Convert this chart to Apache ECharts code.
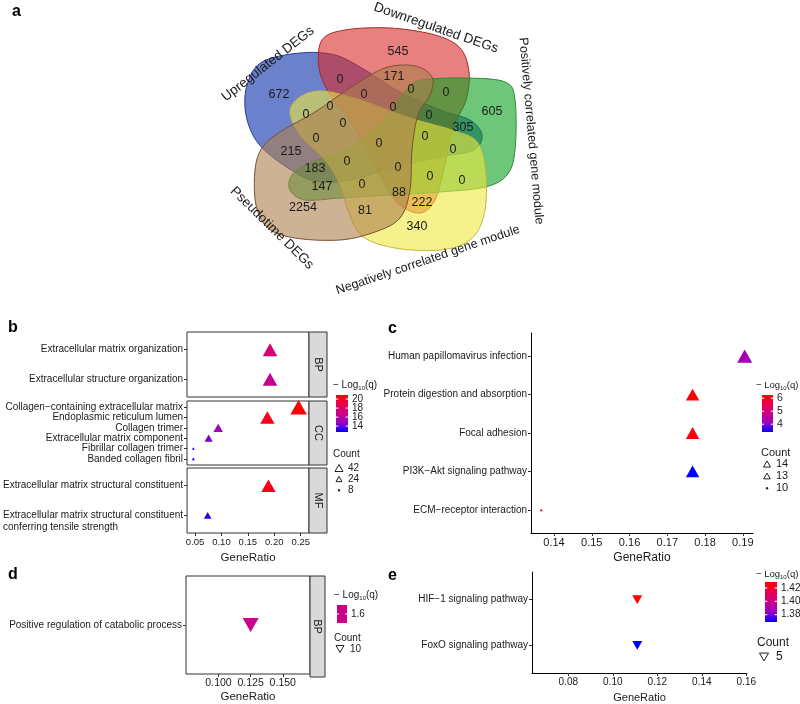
<!DOCTYPE html>
<html><head><meta charset="utf-8">
<script src="https://cdn.jsdelivr.net/npm/echarts@6/dist/echarts.min.js"></script>
<style>html,body{margin:0;padding:0;background:#fff}#c{width:800px;height:704px}</style>
</head><body><div id="c"></div>
<script>
// ================= DATA =================
// Venn (panel a)
const vennSets = ['Upregulated DEGs','Downregulated DEGs','Positively correlated gene module','Negatively correlated gene module','Pseudotime DEGs'];
const vennCounts = [672,545,171,0,0,0,0,0,0,605,0,0,0,305,0,0,0,215,0,0,183,0,0,0,147,0,88,222,2254,81,340];

// Panel b (GO, faceted)
const goBP_terms = ['Extracellular matrix organization','Extracellular structure organization'];
const goBP_ratio = [0.192, 0.192];
const goBP_logq  = [17.6, 16.5];
const goBP_count = [33, 33];

const goCC_terms = ['Collagen\u2212containing extracellular matrix','Endoplasmic reticulum lumen','Collagen trimer','Extracellular matrix component','Fibrillar collagen trimer','Banded collagen fibril'];
const goCC_ratio = [0.246, 0.187, 0.094, 0.076, 0.047, 0.047];
const goCC_logq  = [20.9, 20.3, 15.2, 14.3, 12.9, 12.7];
const goCC_count = [42, 32, 16, 13, 8, 8];

const goMF_terms = ['Extracellular matrix structural constituent','Extracellular matrix structural constituent conferring tensile strength'];
const goMF_ratio = [0.189, 0.074];
const goMF_logq  = [20.3, 13.2];
const goMF_count = [32, 12];

const bTicks = [0.05, 0.10, 0.15, 0.20, 0.25];
const bColorBreaks = [14, 16, 18, 20];
const bCountBreaks = [42, 24, 8];

// Panel c (KEGG)
const keggC_terms = ['Human papillomavirus infection','Protein digestion and absorption','Focal adhesion','PI3K\u2212Akt signaling pathway','ECM\u2212receptor interaction'];
const keggC_ratio = [0.1905, 0.1767, 0.1767, 0.1767, 0.1366];
const keggC_logq  = [4.3, 6.25, 6.15, 3.4, 6.0];
const keggC_count = [14, 13, 13, 13, 10];
const cTicks = [0.14, 0.15, 0.16, 0.17, 0.18, 0.19];
const cColorBreaks = [4, 5, 6];
const cCountBreaks = [14, 13, 10];

// Panel d (GO BP)
const goD_terms = ['Positive regulation of catabolic process'];
const goD_ratio = [0.125];
const goD_logq  = [1.6];
const goD_count = [10];
const dTicks = [0.100, 0.125, 0.150];
const dColorBreaks = [1.6];
const dCountBreaks = [10];

// Panel e (KEGG)
const keggE_terms = ['HIF\u22121 signaling pathway','FoxO signaling pathway'];
const keggE_ratio = [0.111, 0.111];
const keggE_logq  = [1.429, 1.369];
const keggE_count = [5, 5];
const eTicks = [0.08, 0.10, 0.12, 0.14, 0.16];
const eColorBreaks = [1.38, 1.40, 1.42];
const eCountBreaks = [5];

// ================= STYLE / LAYOUT =================
const FONT = "'Liberation Sans', Arial, sans-serif";
const TXT = '#1a1a1a';
const colorStops = ['#0000FF','#9A00C2','#CA0088','#E8004F','#FF0000'];

const vennShapes = [
  {fill:'rgba(10,45,170,0.6)', stroke:'#263c96', pts:[[262,62],[300,53],[335,55],[365,70],[400,92],[440,110],[470,120],[482,135],[474,150],[445,156],[400,166],[350,180],[315,181],[285,166],[258,143],[246,115],[247,85]]},
  {fill:'rgba(217,43,43,0.6)', stroke:'#a52828', pts:[[322,40],[345,30],[390,28],[435,35],[460,48],[469,72],[466,100],[453,128],[445,165],[435,200],[420,213],[400,205],[385,185],[368,152],[348,118],[330,95],[319,68]]},
  {fill:'rgba(13,160,30,0.6)', stroke:'#2a8a3a', pts:[[408,88],[422,80],[465,78],[505,82],[515,100],[515,150],[507,175],[485,187],[440,192],[390,195],[340,198],[305,200],[290,190],[292,175],[310,163],[345,150],[380,125],[398,100]]},
  {fill:'rgba(238,233,63,0.6)', stroke:'#c2b840', pts:[[290,112],[300,97],[322,91],[360,100],[410,118],[455,131],[478,143],[486,175],[484,215],[470,240],[440,250],[395,248],[362,236],[348,210],[340,185],[325,160],[300,135]]},
  {fill:'rgba(172,127,77,0.6)', stroke:'#7a5030', pts:[[255,170],[262,148],[280,132],[315,112],[350,88],[385,68],[415,66],[432,77],[430,95],[418,115],[412,150],[410,190],[400,218],[375,232],[340,240],[295,238],[268,228],[256,205]]}
];
const vennLabelPos = [[279,95],[398,52],[394,77],[340,80],[364,95],[306,115],[330,107],[411,90],[446,93],[492,112],[393,108],[429,116],[343,124],[463,128],[316,139],[379,144],[425,137],[291,152],[453,150],[347,162],[315,169],[398,168],[430,177],[462,181],[322,187],[362,185],[399,193],[422,203],[303,208],[365,211],[417,227]];
const vennSetLabelPos = [
  {x:268, y:64, rot:38},
  {x:436, y:28, rot:-19},
  {x:531, y:131, rot:-85},
  {x:428, y:260, rot:18.7},
  {x:272, y:228, rot:-44.6}
];

// closed Catmull-Rom outline sampled into a polygon
function smoothPts(pts){
  const n = pts.length, out = [];
  for (let i = 0; i < n; i++){
    const p0 = pts[(i-1+n)%n], p1 = pts[i], p2 = pts[(i+1)%n], p3 = pts[(i+2)%n];
    for (let k = 0; k < 10; k++){
      const t = k / 10, t2 = t*t, t3 = t2*t;
      const f = (a,b,c,d) => 0.5*((2*b) + (-a+c)*t + (2*a-5*b+4*c-d)*t2 + (-a+3*b-3*c+d)*t3);
      out.push([f(p0[0],p1[0],p2[0],p3[0]), f(p0[1],p1[1],p2[1],p3[1])]);
    }
  }
  return out;
}

function sizeScale(cmin, cmax, pmin, pmax){
  return c => (cmax === cmin) ? pmax : pmin + (pmax - pmin) * Math.sqrt((c - cmin) / (cmax - cmin));
}
function toData(terms, ratio, logq, count){
  const n = terms.length;
  return terms.map((t, i) => ({name: t, value: [ratio[i], n - i, logq[i], count[i]]}));
}
const mn = a => Math.min.apply(null, a), mx = a => Math.max.apply(null, a);

const bAllLogq = goBP_logq.concat(goCC_logq, goMF_logq);
const bAllCount = goBP_count.concat(goCC_count, goMF_count);
const bMin = mn(bAllLogq), bMax = mx(bAllLogq);
const cMin = mn(keggC_logq), cMax = mx(keggC_logq);
const eMin = mn(keggE_logq), eMax = mx(keggE_logq);
const bSize = sizeScale(mn(bAllCount), mx(bAllCount), 3, 16.5);
const cSize = sizeScale(mn(keggC_count), mx(keggC_count), 3, 15);
const dSize = sizeScale(goD_count[0], goD_count[0], 16, 16);
const eSize = sizeScale(keggE_count[0], keggE_count[0], 10, 10);

const grids = [
  {left:187, top:332, width:122, height:65},
  {left:187, top:401, width:122, height:64},
  {left:187, top:468, width:122, height:65},
  {left:531, top:333, width:222, height:200},
  {left:186, top:576, width:124, height:101},
  {left:532, top:572, width:215, height:105}
];
const boxed = [true, true, true, false, true, false];

function yAx(idx, terms, fs, formatter){
  const n = terms.length; const vals = terms.map((_, i) => i + 1);
  return {gridIndex: idx, type: 'value', min: 0.4, max: n + 0.6,
    axisLine: {show: !boxed[idx], lineStyle: {color: '#000', width: 1}},
    axisTick: {show: true, length: 3, customValues: vals, lineStyle: {color: '#333'}},
    axisLabel: {customValues: vals, fontSize: fs, color: TXT, margin: 4, fontFamily: FONT,
      formatter: formatter || (v => terms[n - Math.round(v)]),
      rich: {
        e: {fontSize: 10, lineHeight: 12, fontFamily: FONT, color: TXT},
        t: {fontSize: 10, lineHeight: 12, fontFamily: FONT, color: TXT},
        s: {fontSize: 10, lineHeight: 12, fontFamily: FONT, color: TXT, width: 176, align: 'left'}
      }},
    splitLine: {show: false}};
}
function xAx(idx, min, max, ticks, dec, fs, show, nameGap, nameFs){
  return {gridIndex: idx, type: 'value', min: min, max: max,
    axisLine: {show: show && !boxed[idx], lineStyle: {color: '#000', width: 1}},
    axisTick: {show: show, length: 3, customValues: ticks, lineStyle: {color: '#333'}},
    axisLabel: {show: show, customValues: ticks, formatter: v => v.toFixed(dec), fontSize: fs, color: TXT, margin: 4, fontFamily: FONT},
    splitLine: {show: false},
    name: show ? 'GeneRatio' : '', nameLocation: 'middle', nameGap: nameGap,
    nameTextStyle: {fontSize: nameFs, color: TXT, fontFamily: FONT}};
}
function scatter(idx, data, sz, down){
  return {type: 'scatter', xAxisIndex: idx, yAxisIndex: idx, data: data, symbol: 'triangle',
    symbolRotate: down ? 180 : 0,
    symbolSize: v => { const w = sz(v[3]); return [w, w * 0.88]; },
    itemStyle: {opacity: 1}, silent: true, animation: false, z: 5};
}

// ================= GRAPHICS =================
const G = [];
vennShapes.forEach(s => G.push({type: 'polygon', shape: {points: smoothPts(s.pts)}, style: {fill: s.fill, stroke: s.stroke, lineWidth: 1}, z: 1, silent: true}));
vennCounts.forEach((v, i) => G.push({type: 'text', x: vennLabelPos[i][0], y: vennLabelPos[i][1], z: 10, silent: true,
  style: {text: String(v), fill: TXT, font: '12.5px ' + FONT, textAlign: 'center', textVerticalAlign: 'middle'}}));
vennSets.forEach((s, i) => { const p = vennSetLabelPos[i]; G.push({type: 'text', x: p.x, y: p.y, rotation: p.rot * Math.PI / 180, z: 10, silent: true,
  style: {text: s, fill: TXT, font: (i === 2 || i === 3 ? '12.5px ' : '13.5px ') + FONT, textAlign: 'center', textVerticalAlign: 'middle'}}); });

// panel letters
[['a',12,12],['b',8,328],['c',388,329],['d',8,575],['e',388,576]].forEach(l => G.push({type: 'text', x: l[1], y: l[2], silent: true,
  style: {text: l[0], fill: '#000', font: 'bold 16px ' + FONT, textAlign: 'left', textVerticalAlign: 'middle'}}));

// strips
function strip(x, y, w, h, label){
  G.push({type: 'rect', shape: {x: x, y: y, width: w, height: h}, style: {fill: '#d9d9d9', stroke: '#333', lineWidth: 1}, silent: true, z: 2});
  G.push({type: 'text', x: x + w / 2, y: y + h / 2, rotation: -Math.PI / 2, silent: true, z: 3,
    style: {text: label, fill: TXT, font: '11px ' + FONT, textAlign: 'center', textVerticalAlign: 'middle'}});
}
strip(309, 332, 18, 65, 'BP'); strip(309, 401, 18, 64, 'CC'); strip(309, 468, 18, 65, 'MF');
strip(310, 576, 15, 101, 'BP');

// legends
function gradient(){ return new echarts.graphic.LinearGradient(0, 1, 0, 0, colorStops.map((c, i) => ({offset: i / (colorStops.length - 1), color: c}))); }
function colorLegend(tx, ty, tfs, bx, by, bw, bh, vmin, vmax, breaks, dec, fs, solid){
  G.push({type: 'text', x: tx, y: ty, silent: true, style: {text: '\u2212 Log{s|10}(q)', fill: TXT, font: tfs + 'px ' + FONT, textAlign: 'left', textVerticalAlign: 'middle',
    rich: {s: {fontSize: 6, fill: TXT, fontFamily: FONT, padding: [6, 0, 0, 0]}}}});
  G.push({type: 'rect', shape: {x: bx, y: by, width: bw, height: bh}, style: {fill: solid || gradient()}, silent: true});
  breaks.forEach(b => {
    const y = solid ? by + bh / 2 : by + bh - (b - vmin) / (vmax - vmin) * bh;
    G.push({type: 'line', shape: {x1: bx, y1: y, x2: bx + bw * 0.2, y2: y}, style: {stroke: '#fff', lineWidth: 1}, silent: true, z: 3});
    G.push({type: 'line', shape: {x1: bx + bw * 0.8, y1: y, x2: bx + bw, y2: y}, style: {stroke: '#fff', lineWidth: 1}, silent: true, z: 3});
    G.push({type: 'text', x: bx + bw + 4, y: y, silent: true, style: {text: b.toFixed(dec), fill: TXT, font: fs + 'px ' + FONT, textAlign: 'left', textVerticalAlign: 'middle'}});
  });
}
function tri(cx, cy, w, down){
  const h = w * 0.88;
  const pts = down ? [[cx - w / 2, cy - h / 2], [cx + w / 2, cy - h / 2], [cx, cy + h / 2]] : [[cx, cy - h / 2], [cx + w / 2, cy + h / 2], [cx - w / 2, cy + h / 2]];
  return {type: 'polygon', shape: {points: pts}, style: {fill: w < 3 ? '#222' : 'none', stroke: '#222', lineWidth: 1}, silent: true};
}
function countLegend(tx, ty, fs, items, down){
  G.push({type: 'text', x: tx, y: ty, silent: true, style: {text: 'Count', fill: TXT, font: fs + 'px ' + FONT, textAlign: 'left', textVerticalAlign: 'middle'}});
  items.forEach(it => {
    G.push(tri(it.x, it.y, it.w, down));
    G.push({type: 'text', x: it.lx, y: it.y, silent: true, style: {text: String(it.v), fill: TXT, font: fs + 'px ' + FONT, textAlign: 'left', textVerticalAlign: 'middle'}});
  });
}
colorLegend(333, 385, 10, 336, 395, 12, 37, bMin, bMax, bColorBreaks, 0, 10);
countLegend(333, 454, 10, [{v: bCountBreaks[0], x: 339, y: 468, w: 8, lx: 348}, {v: bCountBreaks[1], x: 339, y: 479, w: 6, lx: 348}, {v: bCountBreaks[2], x: 339, y: 490, w: 2, lx: 348}], false);
colorLegend(756, 385, 9.5, 762, 395, 11, 37, cMin, cMax, cColorBreaks, 0, 10.5);
countLegend(761, 453, 11, [{v: cCountBreaks[0], x: 767, y: 464, w: 7, lx: 776}, {v: cCountBreaks[1], x: 767, y: 476, w: 6.5, lx: 776}, {v: cCountBreaks[2], x: 767, y: 488, w: 2, lx: 776}], false);
colorLegend(334, 595, 10, 337, 605, 10, 18, goD_logq[0], goD_logq[0], dColorBreaks, 1, 10, colorStops[2]);
countLegend(334, 638, 10, [{v: dCountBreaks[0], x: 340, y: 649, w: 8, lx: 350}], true);
colorLegend(756, 574, 9.5, 765, 582, 12, 40, eMin, eMax, eColorBreaks, 2, 10);
countLegend(757, 643, 12, [{v: eCountBreaks[0], x: 764, y: 657, w: 9, lx: 776}], true);

// ================= CHART =================
const mfFormatter = v => Math.round(v) === 2 ? '{t|' + goMF_terms[0] + '}' : '{e| }\n{t|Extracellular matrix structural constituent}\n{s|conferring tensile strength}';

const option = {
  animation: false,
  backgroundColor: '#fff',
  grid: grids.map((g, i) => Object.assign({show: boxed[i], borderColor: '#333', borderWidth: 1, backgroundColor: 'transparent', containLabel: false}, g)),
  xAxis: [
    xAx(0, 0.035, 0.2657, bTicks, 2, 9.5, false, 0, 11),
    xAx(1, 0.035, 0.2657, bTicks, 2, 9.5, false, 0, 11),
    xAx(2, 0.035, 0.2657, bTicks, 2, 9.5, true, 19, 11.5),
    xAx(3, 0.1339, 0.1927, cTicks, 2, 11, true, 19, 12),
    xAx(4, 0.0747, 0.1712, dTicks, 3, 10.5, true, 17, 11.5),
    xAx(5, 0.0637, 0.1603, eTicks, 2, 10, true, 19, 11)
  ],
  yAxis: [
    yAx(0, goBP_terms, 10),
    yAx(1, goCC_terms, 10),
    yAx(2, goMF_terms, 10, mfFormatter),
    yAx(3, keggC_terms, 10),
    yAx(4, goD_terms, 10),
    yAx(5, keggE_terms, 10)
  ],
  visualMap: [
    {type: 'continuous', show: false, seriesIndex: [0, 1, 2], dimension: 2, min: bMin, max: bMax, inRange: {color: colorStops}},
    {type: 'continuous', show: false, seriesIndex: 3, dimension: 2, min: cMin, max: cMax, inRange: {color: colorStops}},
    {type: 'continuous', show: false, seriesIndex: 4, dimension: 2, min: goD_logq[0] - 1, max: goD_logq[0] + 1, inRange: {color: colorStops}},
    {type: 'continuous', show: false, seriesIndex: 5, dimension: 2, min: eMin, max: eMax, inRange: {color: colorStops}}
  ],
  series: [
    scatter(0, toData(goBP_terms, goBP_ratio, goBP_logq, goBP_count), bSize, false),
    scatter(1, toData(goCC_terms, goCC_ratio, goCC_logq, goCC_count), bSize, false),
    scatter(2, toData(goMF_terms, goMF_ratio, goMF_logq, goMF_count), bSize, false),
    scatter(3, toData(keggC_terms, keggC_ratio, keggC_logq, keggC_count), cSize, false),
    scatter(4, toData(goD_terms, goD_ratio, goD_logq, goD_count), dSize, true),
    scatter(5, toData(keggE_terms, keggE_ratio, keggE_logq, keggE_count), eSize, true)
  ],
  graphic: {elements: G}
};
const chart = echarts.init(document.getElementById('c'), null, {renderer: 'canvas'});
chart.setOption(option);
</script>
</body></html>
